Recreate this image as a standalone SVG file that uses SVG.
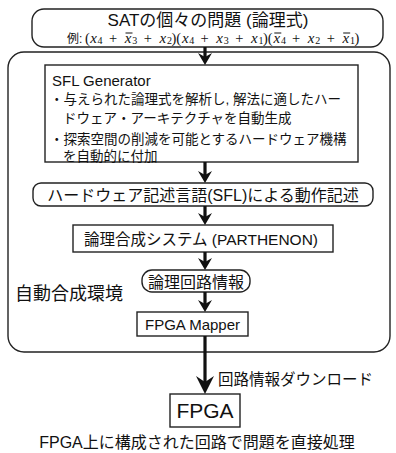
<svg xmlns="http://www.w3.org/2000/svg" width="396" height="453" viewBox="0 0 396 453">
<style>
.box{fill:#fff;stroke:#222;stroke-width:1.4}
.t{font-family:"Liberation Sans","Noto Sans CJK JP",sans-serif;fill:#111}
.m{font-family:"Liberation Serif","Noto Serif",serif;fill:#111;font-size:14.5px}
.v{font-family:"Liberation Serif","Noto Serif",serif;fill:#111;font-size:15px;font-style:italic}
.s{font-family:"Liberation Serif","Noto Serif",serif;fill:#111;font-size:10px}
.ov{stroke:#111;stroke-width:1}
.arr{stroke:#111;stroke-width:3.2;fill:none}
.head{fill:#111}
</style>
<rect width="396" height="453" fill="#fff"/>
<g id="env">
<rect class="box" x="8" y="52" width="382" height="300" rx="16"/>
<text class="t" x="15" y="300" font-size="18">自動合成環境</text>
</g>
<g id="sat">
<rect class="box" x="32" y="9" width="351" height="38" rx="12"/>
<text class="t" x="208" y="25.5" font-size="17" text-anchor="middle">SATの個々の問題 (論理式)</text>
<text class="t" x="67" y="43" font-size="12">例:</text>
<text class="m" x="85" y="43">(</text>
<text class="v" x="90.2" y="43">x</text>
<text class="s" x="97.6" y="43.5">4</text>
<text class="m" x="109.1" y="43">+</text>
<text class="v" x="124.8" y="43">x</text>
<text class="s" x="132.2" y="43.5">3</text>
<text class="m" x="143.7" y="43">+</text>
<text class="v" x="159.5" y="43">x</text>
<text class="s" x="166.9" y="43.5">2</text>
<text class="m" x="171.4" y="43">)(</text>
<text class="v" x="182" y="43">x</text>
<text class="s" x="189.3" y="43.5">4</text>
<text class="m" x="200.6" y="43">+</text>
<text class="v" x="216.3" y="43">x</text>
<text class="s" x="223.7" y="43.5">3</text>
<text class="m" x="235.2" y="43">+</text>
<text class="v" x="251" y="43">x</text>
<text class="s" x="258.4" y="43.5">1</text>
<text class="m" x="262.9" y="43">)(</text>
<text class="v" x="273.6" y="43">x</text>
<text class="s" x="280.9" y="43.5">4</text>
<text class="m" x="292.1" y="43">+</text>
<text class="v" x="307.8" y="43">x</text>
<text class="s" x="315.2" y="43.5">2</text>
<text class="m" x="326.7" y="43">+</text>
<text class="v" x="342.5" y="43">x</text>
<text class="s" x="349.9" y="43.5">1</text>
<text class="m" x="354.6" y="43">)</text>
<line class="ov" x1="125.5" y1="33" x2="132.5" y2="33"/>
<line class="ov" x1="274.3" y1="33" x2="281.3" y2="33"/>
<line class="ov" x1="343.2" y1="33" x2="350.2" y2="33"/>
</g>
<g id="sflgen">
<rect class="box" x="45" y="65" width="313" height="97"/>
<text class="t" x="52" y="86" font-size="15">SFL Generator</text>
<text class="t" x="50" y="104" font-size="13.5">・与えられた論理式を解析し, 解法に適したハー</text>
<text class="t" x="63" y="123" font-size="13.5">ドウェア・アーキテクチャを自動生成</text>
<text class="t" x="50" y="143.5" font-size="13.5">・探索空間の削減を可能とするハードウェア機構</text>
<text class="t" x="63" y="160.5" font-size="13.5">を自動的に付加</text>
</g>
<g id="hdl">
<rect class="box" x="33" y="183" width="340" height="23" rx="8"/>
<text class="t" x="203" y="200.5" font-size="16" text-anchor="middle">ハードウェア記述言語(SFL)による動作記述</text>
</g>
<g id="synth">
<rect class="box" x="73" y="225" width="260" height="27"/>
<text class="t" x="201" y="244.5" font-size="15.5" text-anchor="middle">論理合成システム (PARTHENON)</text>
</g>
<g id="circuit">
<rect class="box" x="142" y="270" width="108" height="22" rx="10"/>
<text class="t" x="196" y="287.5" font-size="16" text-anchor="middle">論理回路情報</text>
</g>
<g id="mapper">
<rect class="box" x="137" y="312" width="111" height="24"/>
<text class="t" x="192.5" y="329.5" font-size="15" text-anchor="middle">FPGA Mapper</text>
</g>
<g id="fpga">
<rect class="box" x="170" y="394" width="70" height="33"/>
<text class="t" x="205" y="418" font-size="21" text-anchor="middle">FPGA</text>
<text class="t" x="197" y="448" font-size="16" text-anchor="middle">FPGA上に構成された回路で問題を直接処理</text>
</g>
<g id="connectors">
<line class="arr" x1="205" y1="47" x2="205" y2="57"/>
<path class="head" d="M198,53 L205,57 L212,53 L205,65 Z"/>
<line class="arr" x1="205" y1="162" x2="205" y2="175"/>
<path class="head" d="M198,171 L205,175 L212,171 L205,183 Z"/>
<line class="arr" x1="205" y1="206" x2="205" y2="217"/>
<path class="head" d="M198,213 L205,217 L212,213 L205,225 Z"/>
<line class="arr" x1="205" y1="252" x2="205" y2="262"/>
<path class="head" d="M198,258 L205,262 L212,258 L205,270 Z"/>
<line class="arr" x1="205" y1="292" x2="205" y2="304"/>
<path class="head" d="M198,300 L205,304 L212,300 L205,312 Z"/>
<line class="arr" x1="205" y1="336" x2="205" y2="382" stroke-width="5"/>
<path class="head" d="M196,376 L205,382 L214,376 L205,394 Z"/>
<text class="t" x="218" y="385" font-size="15.5">回路情報ダウンロード</text>
</g>
</svg>
